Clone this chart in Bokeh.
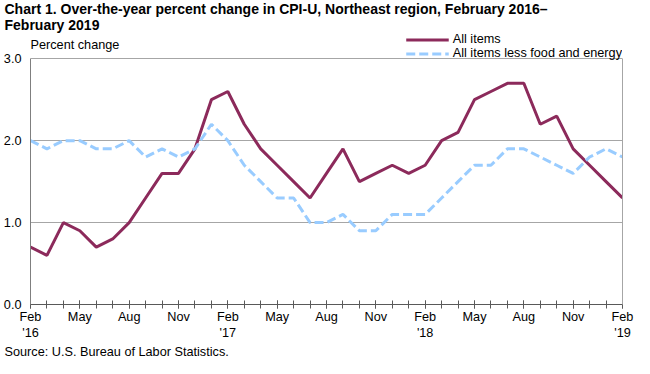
from bokeh.plotting import figure
from bokeh.models import (FixedTicker, Label, Legend, LegendItem, LinearAxis,
                          Range1d, Title)
from bokeh.embed import file_html
from bokeh.resources import INLINE

# ---- data ----
month_idx = list(range(37))  # Feb 2016 ... Feb 2019
all_items = [0.7, 0.6, 1.0, 0.9, 0.7, 0.8, 1.0, 1.3, 1.6, 1.6, 1.9, 2.5,
             2.6, 2.2, 1.9, 1.7, 1.5, 1.3, 1.6, 1.9, 1.5, 1.6, 1.7, 1.6,
             1.7, 2.0, 2.1, 2.5, 2.6, 2.7, 2.7, 2.2, 2.3, 1.9, 1.7, 1.5, 1.3]
core = [2.0, 1.9, 2.0, 2.0, 1.9, 1.9, 2.0, 1.8, 1.9, 1.8, 1.9, 2.2,
        2.0, 1.7, 1.5, 1.3, 1.3, 1.0, 1.0, 1.1, 0.9, 0.9, 1.1, 1.1,
        1.1, 1.3, 1.5, 1.7, 1.7, 1.9, 1.9, 1.8, 1.7, 1.6, 1.8, 1.9, 1.8]
x_tick_pos = list(range(0, 37, 3))
x_tick_labels = ["Feb\n'16", "May", "Aug", "Nov",
                 "Feb\n'17", "May", "Aug", "Nov",
                 "Feb\n'18", "May", "Aug", "Nov",
                 "Feb\n'19"]
y_ticks = [0, 1, 2, 3]
y_tick_labels = ["0.0", "1.0", "2.0", "3.0"]
y_min, y_max = 0, 3

title_1 = "Chart 1. Over-the-year percent change in CPI-U, Northeast region, February 2016\u2013"
title_2 = "February 2019"
y_title = "Percent change"
source_text = "Source: U.S. Bureau of Labor Statistics."
series_names = ["All items", "All items less food and energy"]

# ---- style ----
W, H = 634, 358
FL, FR = 29, 622
Y_HEADROOM = 0.32          # room above 3.0 inside the frame for the legend
FONT = "Liberation Sans"
MAROON = "#8C2A5B"
BLUE = "#99CCFF"
GRID = "#a6a6a6"
TXT = "12.7px"

p = figure(width=W, height=H, x_range=Range1d(0, 36),
           y_range=Range1d(y_min, y_max + Y_HEADROOM),
           output_backend="svg", toolbar_location=None,
           min_border_left=FL, min_border_right=W - FR,
           min_border_top=0, min_border_bottom=0)
p.background_fill_color = "white"
p.border_fill_color = "white"
p.outline_line_color = None


def make_title(text, size, bold, standoff=0):
    return Title(text=text, align="left", offset=-(FL - 3), standoff=standoff,
                 text_font=FONT, text_font_size=size,
                 text_font_style="bold" if bold else "normal",
                 text_color="black")


p.title = make_title(title_1, "14px", True, standoff=-4)
p.add_layout(make_title(title_2, "14px", True), "above")

r1 = p.line(month_idx, all_items, line_color=MAROON, line_width=3)
r2 = p.line(month_idx, core, line_color=BLUE, line_width=3, line_dash="9 4")

legend = Legend(items=[LegendItem(label=series_names[0], renderers=[r1]),
                       LegendItem(label=series_names[1], renderers=[r2])],
                location="top_right", orientation="vertical",
                glyph_width=43, glyph_height=13, label_height=13,
                label_standoff=4, spacing=0, padding=1, margin=0,
                border_line_color=None, background_fill_alpha=0,
                label_text_font=FONT, label_text_font_size=TXT,
                label_text_color="black")
p.add_layout(legend)

p.add_layout(Label(x=0, y=y_max + 0.17, x_offset=0, text=y_title,
                   text_font=FONT, text_font_size=TXT, text_color="black",
                   text_baseline="alphabetic", text_align="left"))

# x axis
xa = p.xaxis[0]
xa.ticker = FixedTicker(ticks=x_tick_pos, minor_ticks=month_idx)
xa.major_label_overrides = {t: l for t, l in zip(x_tick_pos, x_tick_labels)}
xa.axis_line_color = "#595959"
xa.major_tick_line_color = "#595959"
xa.minor_tick_line_color = "#595959"
xa.major_tick_in = 4
xa.major_tick_out = 4
xa.minor_tick_in = 4
xa.minor_tick_out = 4
xa.major_label_standoff = 1
xa.major_label_text_font = FONT
xa.major_label_text_font_size = TXT
xa.major_label_text_line_height = 1.15
xa.major_label_text_color = "black"

p.add_layout(make_title(source_text, TXT, False, standoff=0), "below")

# y axis (line only from 0 to 3)
ya = p.yaxis[0]
ya.ticker = FixedTicker(ticks=y_ticks)
ya.bounds = (y_min, y_max)
ya.major_label_overrides = {t: l for t, l in zip(y_ticks, y_tick_labels)}
ya.axis_line_color = "#7f7f7f"
ya.major_tick_in = 0
ya.major_tick_out = 0
ya.minor_tick_line_color = None
ya.major_label_standoff = 9
ya.major_label_text_font = FONT
ya.major_label_text_font_size = TXT
ya.major_label_text_color = "black"

# right border of the plot area
ra = LinearAxis(ticker=FixedTicker(ticks=[]), bounds=(y_min, y_max),
                axis_line_color=GRID, major_tick_in=0, major_tick_out=0,
                minor_tick_line_color=None, major_label_text_font_size="0px",
                major_label_standoff=0)
p.add_layout(ra, "right")

p.xgrid.visible = False
p.ygrid.ticker = FixedTicker(ticks=y_ticks[1:])
p.ygrid.grid_line_color = GRID
p.ygrid.grid_line_width = 1

open("out.html", "w").write(file_html(p, INLINE))
